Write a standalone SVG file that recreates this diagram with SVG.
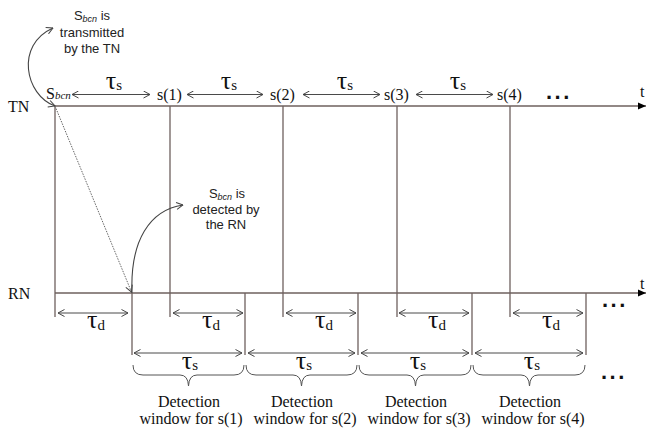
<svg xmlns="http://www.w3.org/2000/svg" width="653" height="428" viewBox="0 0 653 428">
<defs>
<marker id="oa" viewBox="0 0 8 8" refX="7.5" refY="4" markerWidth="8" markerHeight="8" markerUnits="userSpaceOnUse" orient="auto-start-reverse">
<path d="M1,0.5 L7.5,4 L1,7.5" fill="none" stroke="#444" stroke-width="1"/>
</marker>
<marker id="fa" viewBox="0 0 8 8" refX="8" refY="4" markerWidth="8" markerHeight="8" markerUnits="userSpaceOnUse" orient="auto">
<path d="M0,0.5 L8,4 L0,7.5 Z" fill="#000"/>
</marker>
<style>
.ln{stroke:#6e605e;stroke-width:1.3;fill:none}
.dim{stroke:#4a4a4a;stroke-width:1;fill:none;marker-start:url(#oa);marker-end:url(#oa)}
.ser{font-family:"Liberation Serif","Times New Roman",serif;font-size:16px;fill:#111}
.sans{font-family:"Liberation Sans",Arial,sans-serif;font-size:13px;fill:#222}
.tau{font-family:"Liberation Serif","Times New Roman",serif;font-size:26px;fill:#111}
.sub{font-size:15px}
.dots{font-family:"Liberation Sans",Arial,sans-serif;font-size:22px;font-weight:bold;letter-spacing:2.5px;fill:#111}
</style>
</defs>

<g id="connectors">
<line class="ln" x1="55" y1="106" x2="646" y2="106" marker-end="url(#fa)"/>
<line class="ln" x1="55" y1="293" x2="646" y2="293" marker-end="url(#fa)"/>
<line class="ln" x1="55" y1="106" x2="55" y2="317"/>
<line class="ln" x1="170" y1="106" x2="170" y2="317"/>
<line class="ln" x1="283" y1="106" x2="283" y2="317"/>
<line class="ln" x1="397" y1="106" x2="397" y2="317"/>
<line class="ln" x1="510" y1="106" x2="510" y2="317"/>
<line class="ln" x1="132" y1="293" x2="132" y2="355"/>
<line class="ln" x1="245" y1="293" x2="245" y2="355"/>
<line class="ln" x1="358" y1="293" x2="358" y2="355"/>
<line class="ln" x1="472" y1="293" x2="472" y2="355"/>
<line class="ln" x1="586" y1="293" x2="586" y2="355"/>
<line class="dim" x1="72" y1="94.5" x2="150" y2="94.5"/>
<line class="dim" x1="187" y1="94.5" x2="263" y2="94.5"/>
<line class="dim" x1="303" y1="94.5" x2="380" y2="94.5"/>
<line class="dim" x1="416" y1="94.5" x2="493" y2="94.5"/>
<line class="dim" x1="58" y1="313" x2="128" y2="313"/>
<line class="dim" x1="173" y1="313" x2="243" y2="313"/>
<line class="dim" x1="286" y1="313" x2="356" y2="313"/>
<line class="dim" x1="399" y1="313" x2="469" y2="313"/>
<line class="dim" x1="513" y1="313" x2="583" y2="313"/>
<line class="dim" x1="134" y1="353" x2="242" y2="353"/>
<line class="dim" x1="248" y1="353" x2="355" y2="353"/>
<line class="dim" x1="361" y1="353" x2="469" y2="353"/>
<line class="dim" x1="475" y1="353" x2="583" y2="353"/>
<line x1="55" y1="106" x2="131.5" y2="292" stroke="#666" stroke-width="1" stroke-dasharray="1.5 1.2" marker-end="url(#oa)"/>
<path d="M55,106 C25,95 15,45 53,28" fill="none" stroke="#444" stroke-width="1.1" marker-start="url(#oa)" marker-end="url(#oa)"/>
<path d="M132,293 C130,240 150,210 183,205" fill="none" stroke="#444" stroke-width="1.1" marker-end="url(#oa)"/>
<path d="M133,365 Q133,375 143,375 L180,375 Q188,375 188.5,386 Q189,375 197,375 L234,375 Q244,375 244,365" fill="none" stroke="#555" stroke-width="1"/>
<path d="M246,365 Q246,375 256,375 L293,375 Q301,375 301.5,386 Q302,375 310,375 L347,375 Q357,375 357,365" fill="none" stroke="#555" stroke-width="1"/>
<path d="M359,365 Q359,375 369,375 L407,375 Q415,375 415.5,386 Q416,375 424,375 L461,375 Q471,375 471,365" fill="none" stroke="#555" stroke-width="1"/>
<path d="M473,365 Q473,375 483,375 L521,375 Q529,375 529.5,386 Q530,375 538,375 L575,375 Q585,375 585,365" fill="none" stroke="#555" stroke-width="1"/>
</g>

<g id="tn-label"><text class="ser" x="8" y="112">TN</text></g>
<g id="rn-label"><text class="ser" x="8" y="299">RN</text></g>
<g id="t-top"><text class="ser" x="640" y="97">t</text></g>
<g id="t-bottom"><text class="ser" x="640" y="289">t</text></g>

<g id="sbcn-tn"><text class="ser" x="46" y="99">S<tspan font-size="11" font-style="italic">bcn</tspan></text></g>
<g id="s1"><text class="ser" x="157" y="100">s(1)</text></g>
<g id="s2"><text class="ser" x="270" y="100">s(2)</text></g>
<g id="s3"><text class="ser" x="384" y="100">s(3)</text></g>
<g id="s4"><text class="ser" x="497" y="100">s(4)</text></g>

<g id="dots-top"><text class="dots" x="546" y="99">...</text></g>
<g id="dots-rn"><text class="dots" x="602" y="307">...</text></g>
<g id="dots-bottom"><text class="dots" x="601" y="379">...</text></g>

<g id="tau-s-top">
<text class="tau" x="114" y="89" text-anchor="middle">τ<tspan class="sub" dy="1">s</tspan></text>
<text class="tau" x="229" y="89" text-anchor="middle">τ<tspan class="sub" dy="1">s</tspan></text>
<text class="tau" x="345" y="89" text-anchor="middle">τ<tspan class="sub" dy="1">s</tspan></text>
<text class="tau" x="458" y="89" text-anchor="middle">τ<tspan class="sub" dy="1">s</tspan></text>
</g>
<g id="tau-d">
<text class="tau" x="96" y="328" text-anchor="middle">τ<tspan class="sub" dy="2">d</tspan></text>
<text class="tau" x="211" y="328" text-anchor="middle">τ<tspan class="sub" dy="2">d</tspan></text>
<text class="tau" x="324" y="328" text-anchor="middle">τ<tspan class="sub" dy="2">d</tspan></text>
<text class="tau" x="437" y="328" text-anchor="middle">τ<tspan class="sub" dy="2">d</tspan></text>
<text class="tau" x="551" y="328" text-anchor="middle">τ<tspan class="sub" dy="2">d</tspan></text>
</g>
<g id="tau-s-bottom">
<text class="tau" x="190" y="369" text-anchor="middle">τ<tspan class="sub" dy="1">s</tspan></text>
<text class="tau" x="304" y="369" text-anchor="middle">τ<tspan class="sub" dy="1">s</tspan></text>
<text class="tau" x="418" y="369" text-anchor="middle">τ<tspan class="sub" dy="1">s</tspan></text>
<text class="tau" x="532" y="369" text-anchor="middle">τ<tspan class="sub" dy="1">s</tspan></text>
</g>

<g id="note-transmitted">
<text class="sans" x="92" y="20" text-anchor="middle">S<tspan font-size="9" font-style="italic" dy="2">bcn</tspan><tspan dy="-2"> is</tspan></text>
<text class="sans" x="92" y="37" text-anchor="middle">transmitted</text>
<text class="sans" x="92" y="53" text-anchor="middle">by the TN</text>
</g>
<g id="note-detected">
<text class="sans" x="227" y="198" text-anchor="middle">S<tspan font-size="9" font-style="italic" dy="2">bcn</tspan><tspan dy="-2"> is</tspan></text>
<text class="sans" x="226" y="214" text-anchor="middle">detected by</text>
<text class="sans" x="226" y="229" text-anchor="middle">the RN</text>
</g>

<g id="window1">
<text class="ser" x="189" y="407" text-anchor="middle">Detection</text>
<text class="ser" x="191" y="424" text-anchor="middle">window for s(1)</text>
</g>
<g id="window2">
<text class="ser" x="302" y="407" text-anchor="middle">Detection</text>
<text class="ser" x="305" y="424" text-anchor="middle">window for s(2)</text>
</g>
<g id="window3">
<text class="ser" x="416" y="407" text-anchor="middle">Detection</text>
<text class="ser" x="419" y="424" text-anchor="middle">window for s(3)</text>
</g>
<g id="window4">
<text class="ser" x="530" y="407" text-anchor="middle">Detection</text>
<text class="ser" x="533" y="424" text-anchor="middle">window for s(4)</text>
</g>
</svg>
